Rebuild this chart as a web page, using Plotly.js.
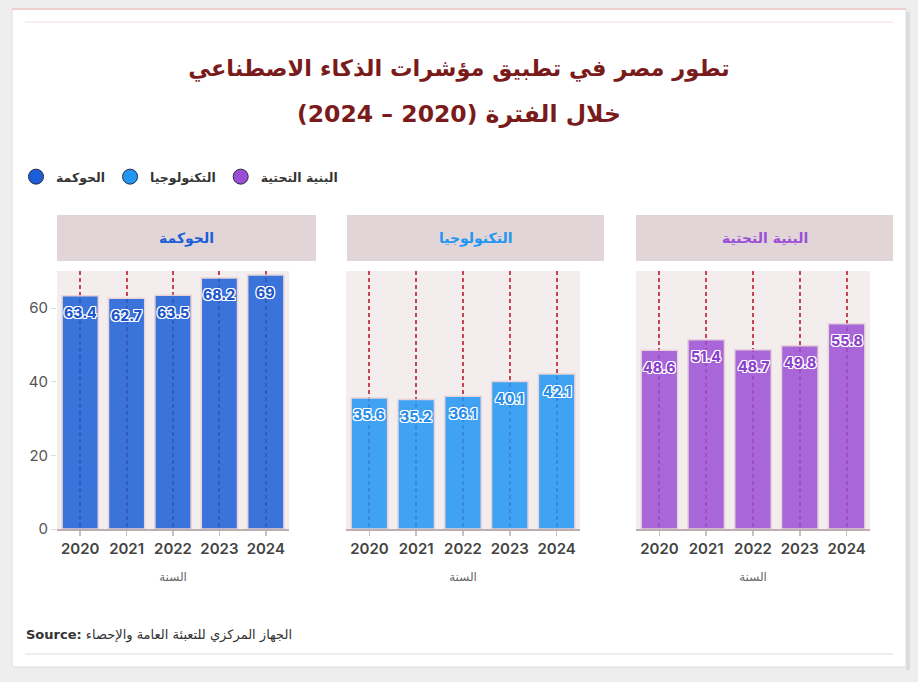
<!DOCTYPE html>
<html>
<head>
<meta charset="utf-8">
<script src="https://cdn.plot.ly/plotly-3.0.1.min.js"></script>
<style>
  html, body { margin: 0; padding: 0; background: #eeeeee; }
  #chart { width: 918px; height: 682px; }
</style>
</head>
<body>
<div id="chart"></div>
<script>
// Egypt AI indicators, 2020-2024
const years = ['2020', '2021', '2022', '2023', '2024'];
const governance = [63.4, 62.7, 63.5, 68.2, 69];
const technology = [35.6, 35.2, 36.1, 40.1, 42.1];
const infrastructure = [48.6, 51.4, 48.7, 49.8, 55.8];

const seriesNames = ['الحوكمة', 'التكنولوجيا', 'البنية التحتية'];
const seriesValues = [governance, technology, infrastructure];
const seriesColors = ['#1a5fd8', '#2196f3', '#9b4fd6'];
const labelColors = ['#1c56c8', '#2a8ee8', '#8a42c8'];
const yTickValues = [0, 20, 40, 60];
const xAxisTitle = 'السنة';

const titleLine1 = 'تطور مصر في تطبيق مؤشرات الذكاء الاصطناعي';
const titleLine2 = 'خلال الفترة (2020 – 2024)';
const sourceText = 'الجهاز المركزي للتعبئة العامة والإحصاء';

// page geometry helpers (pixels -> paper fractions)
const W = 918, H = 682;
const px = x => x / W;
const py = y => 1 - y / H;

const plotLeft = [57, 346, 636];
const plotRight = [289, 580, 870];
const stripLeft = [57, 347, 636];
const stripRight = [316, 604, 893];
const plotTop = 271, plotBottom = 529;
const stripTop = 215, stripBottom = 261;

const FONT = 'Inter, "DejaVu Sans", sans-serif';
const AR_FONT = '"DejaVu Sans", sans-serif';
const halo = '-1px -1px 0 #fff, 1px -1px 0 #fff, -1px 1px 0 #fff, 1px 1px 0 #fff, 0 -1px 0 #fff, 0 1px 0 #fff, -1px 0 0 #fff, 1px 0 0 #fff';

const traces = [];
const annotations = [];
const shapes = [];
const layout = {
  width: W, height: H,
  margin: {l: 0, r: 0, t: 0, b: 0},
  paper_bgcolor: '#eeeeee',
  plot_bgcolor: 'rgba(0,0,0,0)',
  font: {family: FONT, color: '#444'},
  bargap: 0.22,
  showlegend: true,
  legend: {
    orientation: 'h', x: px(16), xanchor: 'left', y: py(177), yanchor: 'middle',
    font: {family: AR_FONT, size: 12.5, color: '#333', weight: 700},
    bgcolor: 'rgba(0,0,0,0)', itemclick: false, itemdoubleclick: false,
    traceorder: 'normal'
  },
  title: {
    text: '<b>' + titleLine1 + '</b>',
    font: {family: AR_FONT, size: 22.5, color: '#7a1b1b'},
    x: 0.5, xanchor: 'center', xref: 'paper',
    y: py(68), yanchor: 'middle', yref: 'paper'
  },
  shapes: shapes,
  annotations: annotations
};

// card
shapes.push({type: 'rect', xref: 'paper', yref: 'paper', layer: 'below',
  x0: px(906), x1: px(910), y0: py(12), y1: py(670), fillcolor: '#dcdcdc', line: {width: 0}});
shapes.push({type: 'rect', xref: 'paper', yref: 'paper', layer: 'below',
  x0: px(12), x1: px(906), y0: py(9), y1: py(667), fillcolor: '#ffffff', line: {color: '#dddddd', width: 1}});
shapes.push({type: 'line', xref: 'paper', yref: 'paper', layer: 'below',
  x0: px(12), x1: px(906), y0: py(9), y1: py(9), line: {color: '#f1c9c9', width: 1.5}});
shapes.push({type: 'line', xref: 'paper', yref: 'paper', layer: 'below',
  x0: px(25), x1: px(893), y0: py(22), y1: py(22), line: {color: '#f5dede', width: 1}});
shapes.push({type: 'line', xref: 'paper', yref: 'paper', layer: 'below',
  x0: px(25), x1: px(893), y0: py(654), y1: py(654), line: {color: '#dddddd', width: 1}});

// second title line
annotations.push({
  xref: 'paper', yref: 'paper', x: 0.5, y: py(114), xanchor: 'center', yanchor: 'middle',
  showarrow: false, text: '<b>\u202B' + titleLine2 + '\u202C</b>',
  font: {family: AR_FONT, size: 23.5, color: '#7a1b1b'}
});

// source
annotations.push({
  xref: 'paper', yref: 'paper', x: px(24), y: py(635), xanchor: 'left', yanchor: 'middle',
  showarrow: false, text: '<b>Source:</b> ' + sourceText,
  font: {family: AR_FONT, size: 13, color: '#333'}
});

for (let i = 0; i < 3; i++) {
  const sfx = i === 0 ? '' : String(i + 1);
  const xa = 'x' + sfx, ya = 'y' + sfx;

  layout['xaxis' + sfx] = {
    domain: [px(plotLeft[i]), px(plotRight[i])],
    anchor: ya, type: 'category', categoryorder: 'array', categoryarray: years,
    range: [-0.5, years.length - 0.5], autorange: false,
    showgrid: true, gridcolor: '#c4444f', gridwidth: 2, griddash: '4px,3px',
    showline: true, linecolor: '#bfaeae', linewidth: 2,
    ticks: 'outside', ticklen: 5, tickwidth: 1.5, tickcolor: '#c8c0c0',
    tickfont: {family: FONT, size: 15, color: '#444', weight: 600},
    title: {text: xAxisTitle, standoff: 16,
      font: {family: AR_FONT, size: 12, color: '#666'}},
    fixedrange: true, zeroline: false
  };
  layout['yaxis' + sfx] = {
    domain: [py(plotBottom), py(plotTop)],
    anchor: xa, range: [0, 70.1], autorange: false, fixedrange: true,
    showgrid: false, zeroline: false, showline: false,
    tickmode: 'array', tickvals: yTickValues,
    showticklabels: i === 0,
    ticks: i === 0 ? 'outside' : '', ticklen: 5, tickwidth: 1, tickcolor: '#dddddd',
    tickfont: {family: FONT, size: 15, color: '#555'}
  };

  // plot background
  shapes.push({type: 'rect', xref: 'paper', yref: 'paper', layer: 'below',
    x0: px(plotLeft[i]), x1: px(plotRight[i]), y0: py(plotBottom), y1: py(plotTop),
    fillcolor: '#f3eded', line: {width: 0}});
  // panel header strip
  shapes.push({type: 'rect', xref: 'paper', yref: 'paper', layer: 'below',
    x0: px(stripLeft[i]), x1: px(stripRight[i]), y0: py(stripBottom), y1: py(stripTop),
    fillcolor: '#e1d5d7', line: {width: 0}});
  annotations.push({
    xref: 'paper', yref: 'paper', x: px((stripLeft[i] + stripRight[i]) / 2), y: py(238),
    xanchor: 'center', yanchor: 'middle', showarrow: false,
    text: '<b>' + seriesNames[i] + '</b>',
    font: {family: AR_FONT, size: 14, color: seriesColors[i]}
  });

  traces.push({
    type: 'bar', x: years, y: seriesValues[i], xaxis: xa, yaxis: ya,
    name: seriesNames[i], showlegend: false,
    marker: {color: seriesColors[i], opacity: 0.85, line: {color: '#e5cfd6', width: 1.5}}
  });

  // value labels near the top of each bar
  seriesValues[i].forEach((v, j) => {
    annotations.push({
      xref: xa, yref: ya, x: j, y: v, yshift: -17,
      xanchor: 'center', yanchor: 'middle', showarrow: false, text: String(v),
      font: {family: FONT, size: 14, color: labelColors[i], weight: 800, shadow: halo}
    });
  });
}

// legend entries (circle markers)
for (let i = 0; i < 3; i++) {
  traces.push({
    type: 'scatter', mode: 'markers', x: [years[0]], y: [null], xaxis: 'x', yaxis: 'y',
    name: seriesNames[i], showlegend: true, hoverinfo: 'skip',
    marker: {symbol: 'circle', size: 15, color: seriesColors[i], line: {color: '#2b2b45', width: 1}}
  });
}

Plotly.newPlot('chart', traces, layout, {displayModeBar: false, staticPlot: true});
</script>
</body>
</html>
